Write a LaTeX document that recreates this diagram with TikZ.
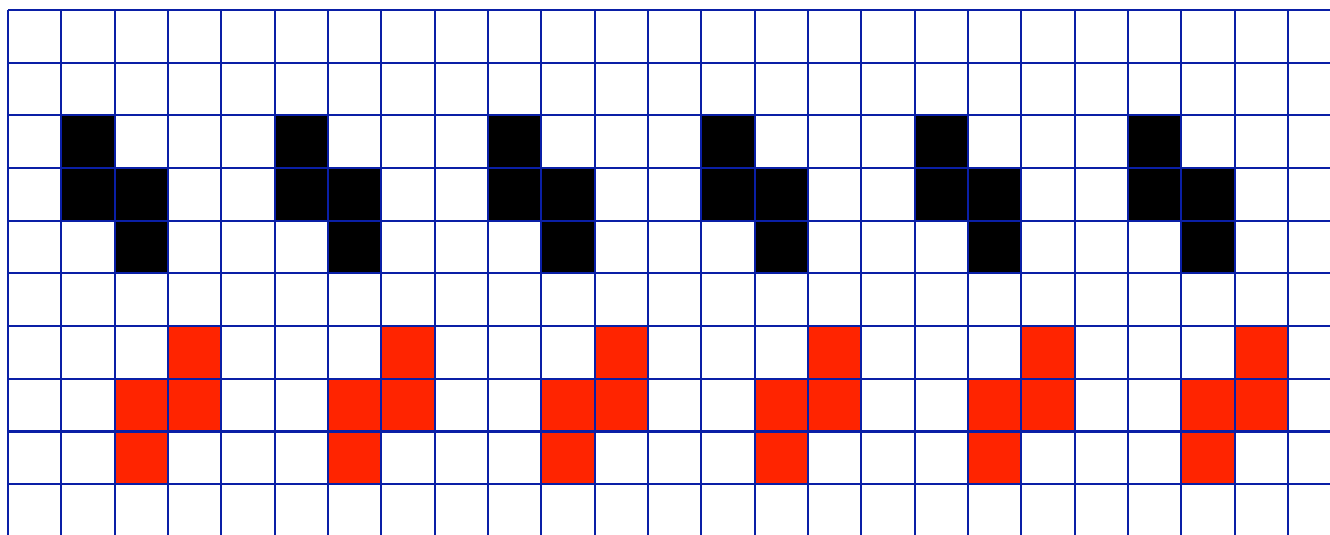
\documentclass[tikz,border=0pt]{standalone}
\usepackage{xcolor}
\usepackage{tikz}
\definecolor{gridblue}{HTML}{0A1FA6}
\definecolor{tetred}{HTML}{FF2400}

\begin{document}
\begin{tikzpicture}[x=1cm, y=0.988cm,
    gridline/.style={draw=gridblue, line width=1.1pt},
    blackcell/.style={fill=black},
    redcell/.style={fill=tetred}]
    \useasboundingbox[fill=white] (-0.15,0.19) rectangle (24.79,-9.96);
    % tetrominoes, one pair every four columns
    \foreach \c in {1,5,9,13,17,21}{
      \pgfmathtruncatemacro{\d}{\c+1}
      \pgfmathtruncatemacro{\e}{\c+2}
      \foreach \x/\y in {\c/2,\c/3,\d/3,\d/4}
        \fill[blackcell] (\x,-\y) rectangle ++(1,-1);
      \foreach \x/\y in {\e/6,\d/7,\e/7,\d/8}
        \fill[redcell] (\x,-\y) rectangle ++(1,-1);
    }
    % grid
    \foreach \i in {0,...,24}
      \draw[gridline] (\i,0) -- (\i,-9.96);
    \foreach \j in {0,...,9}
      \draw[gridline] (0,-\j) -- (24.79,-\j);
  \end{tikzpicture}
\end{document}
